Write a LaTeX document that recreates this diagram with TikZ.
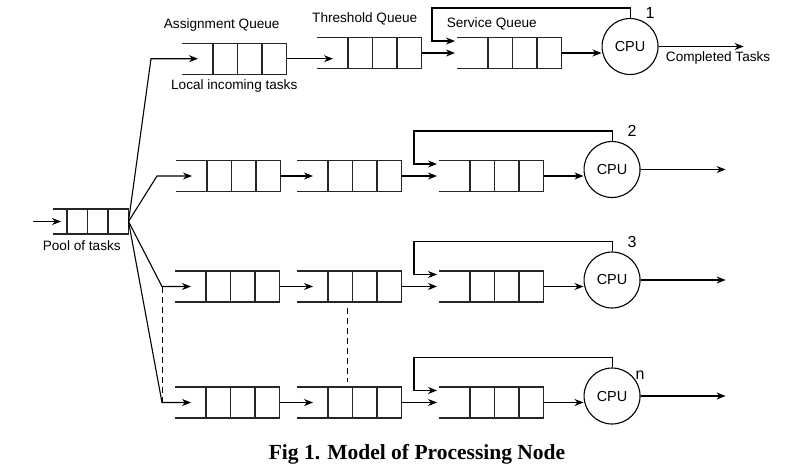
\documentclass[tikz,border=0pt]{standalone}
\usepackage{fontspec}
\setmainfont{Liberation Serif}
\setsansfont{Liberation Sans}
\usetikzlibrary{arrows.meta,calc,positioning}

\begin{document}
\begin{tikzpicture}[x=1pt,y=-1pt,>={Stealth[length=9pt,width=7pt]},
 qopen/.store in=\qopen,qcell/.store in=\qcell,qh/.store in=\qh,qin/.store in=\qin,qopen=31,qcell=24.5,qh=31,qin=16,
 svc/.style={qin=-2},
 qline/.style={line width=1.3pt,draw=black!85},
 arr/.style={->,line width=1.1pt},
 guide/.style={dash pattern=on 6pt off 4pt,line width=1pt},
 lbl/.style={font=\sffamily\fontsize{13.6}{15}\selectfont,inner sep=0pt},
 num/.style={font=\sffamily\fontsize{16}{18}\selectfont,inner sep=0pt},
 cpu/.style={circle,draw,line width=1.1pt,minimum size=56pt,inner sep=0pt,font=\sffamily\fontsize{14.5}{16}\selectfont},
 pics/queue/.style={code={
  \draw[qline] (0,-\qh/2) -- ({\qopen+3*\qcell},-\qh/2) -- ({\qopen+3*\qcell},\qh/2) -- (0,\qh/2);
  \foreach \i in {0,1,2} \draw[qline] ({\qopen+\i*\qcell},-\qh/2) -- ({\qopen+\i*\qcell},\qh/2);
  \coordinate (-in) at (\qin,0); \coordinate (-out) at ({\qopen+3*\qcell},0);
  \coordinate (-fb) at (\qin,-12); \coordinate (-fbx) at (-25,-12);
  \coordinate (-n) at ({(\qopen+3*\qcell)/2},-\qh/2); \coordinate (-s) at ({(\qopen+3*\qcell)/2},\qh/2);}}]
\useasboundingbox (0,0) rectangle (799,466);
% queues
\pic[qopen=14,qcell=20.5,qh=25,qin=8] (pool) at (53,221.5) {queue};
\pic (a1) at (182,58.7) {queue}; \pic (t1) at (317,53) {queue}; \pic[svc] (s1) at (457,53) {queue};
\pic (a2) at (176,176) {queue}; \pic (t2) at (297,176) {queue}; \pic[svc] (s2) at (439,176) {queue};
\pic (a3) at (175,286.5) {queue}; \pic (t3) at (297,286.5) {queue}; \pic[svc] (s3) at (439,286.5) {queue};
\pic (a4) at (175,402.5) {queue}; \pic (t4) at (297,402.5) {queue}; \pic[svc] (s4) at (439,402.5) {queue};
% processors
\node[cpu,right=40pt of s1-out,yshift=6.5pt] (cpu1) {CPU}; \node[cpu,right=40pt of s2-out,yshift=6.5pt] (cpu2) {CPU};
\node[cpu,right=40pt of s3-out,yshift=6.5pt] (cpu3) {CPU}; \node[cpu,right=40pt of s4-out,yshift=6.5pt] (cpu4) {CPU};
\node[num,above right=1pt and 5.5pt of cpu1.70] (k1) {1}; \node[num,above right=5.5pt and 5.5pt of cpu2.70] (k2) {2};
\node[num,above right=5.5pt and 5.5pt of cpu3.70] (k3) {3}; \node[num,anchor=south west] (kn) at (cpu4.35) {n};
% labels
\node[lbl,above=12pt of a1-n,xshift=-12.5pt] (aq) {Assignment Queue};
\node[lbl,below=5pt of a1-s] (lit) {Local incoming tasks};
\node[lbl,above=12.5pt of t1-n,xshift=-4.5pt] (tq) {Threshold Queue};
\node[lbl,above=7.5pt of s1-n,xshift=-17.5pt] (sq) {Service Queue};
\node[lbl,below=6pt of pool-s,xshift=-9pt] (pt) {Pool of tasks};
% connectors
\coordinate[left=28pt of pool-in] (src); \draw[arr] (src) -- (pool-in);
\coordinate[left=47pt of a1-in] (b1); \coordinate[left=35pt of a2-in] (b2); \coordinate[left=29pt of a3-in] (b3); \coordinate[left=29pt of a4-in] (b4);
\foreach \r in {1,...,4} \draw[arr] (pool-out) -- (b\r) -- (a\r-in);
\draw[guide] (b3) -- (b4); \draw[guide] ($(t3-s)+(-2,6)$) -- ($(t4-n)+(-2,-5)$);
\draw[arr] (a1-out) -- (a1-out -| t1-in); \draw[arr] (t1-out) -- (s1-in);
\foreach \r in {2,3,4} {\draw[arr] (a\r-out) -- (t\r-in); \draw[arr] (t\r-out) -- (s\r-in);}
\foreach \r in {1,...,4} {\draw[arr] (s\r-out) -- (s\r-out -| cpu\r.west); \draw[arr] (cpu\r.north) -- ++(0,-10) -| (s\r-fbx) -- (s\r-fb);}
\draw[arr] (cpu1.east) -- ++(85,0) node[lbl,pos=0.7,below=5pt] (done) {Completed Tasks};
\foreach \r in {2,3,4} \draw[arr] (cpu\r.east) -- ++(85,0);
\node[font=\rmfamily\bfseries\fontsize{21.5}{24}\selectfont,anchor=base] (caption) at (417,459) {Fig 1. Model of Processing Node};
\end{tikzpicture}
\end{document}
